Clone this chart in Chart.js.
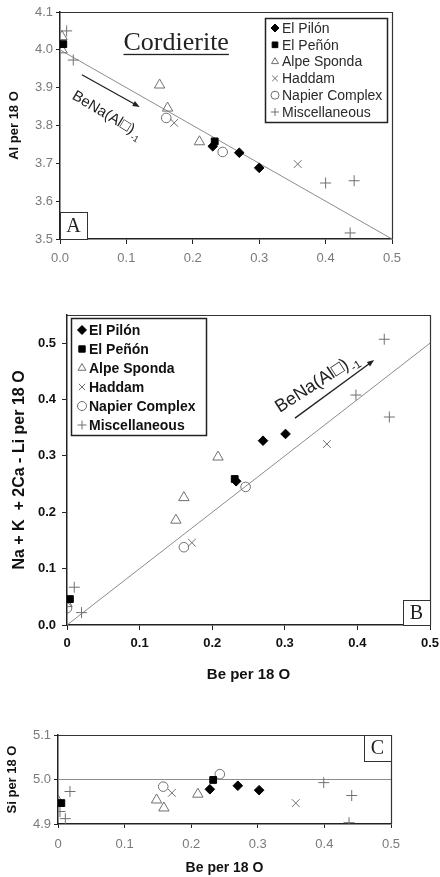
<!DOCTYPE html>
<html>
<head>
<meta charset="utf-8">
<title>Cordierite Be substitution</title>
<script src="https://cdn.jsdelivr.net/npm/chart.js@4.4.1/dist/chart.umd.min.js"></script>
<style>
  html, body { margin: 0; padding: 0; background: #fff; }
  body { width: 440px; height: 877px; position: relative; overflow: hidden; }
  canvas { position: absolute; left: 0; }
</style>
</head>
<body>
<canvas id="chartA" width="440" height="280" style="top:0"></canvas>
<canvas id="chartB" width="440" height="395" style="top:295px"></canvas>
<canvas id="chartC" width="440" height="157" style="top:720px"></canvas>
<script>
// ─── Data (Be per 18 O on x) ─────────────────────────────────────
const seriesNames = ['El Pilón', 'El Peñón', 'Alpe Sponda', 'Haddam', 'Napier Complex', 'Miscellaneous'];
const xTicks = [0, 0.1, 0.2, 0.3, 0.4, 0.5];

// A: Al per 18 O
const alPilon  = [[0.230, 3.745], [0.270, 3.728], [0.300, 3.688]];
const alPenon  = [[0.005, 4.015], [0.233, 3.758]];
const alAlpe   = [[0.003, 4.035], [0.003, 4.000], [0.150, 3.907], [0.162, 3.846], [0.210, 3.757]];
const alHaddam = [[0.172, 3.807], [0.358, 3.698]];
const alNapier = [[0.160, 3.820], [0.245, 3.730]];
const alMisc   = [[0.010, 4.050], [0.020, 3.973], [0.400, 3.648], [0.443, 3.654], [0.437, 3.516]];
const alTrend  = [[0, 4.0], [0.5, 3.5]];

// B: Na + K + 2Ca - Li per 18 O
const alkPilon  = [[0.233, 0.255], [0.270, 0.327], [0.301, 0.339]];
const alkPenon  = [[0.004, 0.046], [0.231, 0.259]];
const alkAlpe   = [[0.000, 0.038], [0.150, 0.186], [0.161, 0.226], [0.208, 0.298]];
const alkHaddam = [[0.172, 0.146], [0.358, 0.321]];
const alkNapier = [[0.000, 0.030], [0.161, 0.138], [0.246, 0.245]];
const alkMisc   = [[0.010, 0.067], [0.020, 0.022], [0.398, 0.408], [0.437, 0.507], [0.444, 0.369]];
const alkTrend  = [[0, 0], [0.5, 0.5]];

// C: Si per 18 O
const siPilon  = [[0.228, 4.978], [0.270, 4.986], [0.302, 4.976]];
const siPenon  = [[0.005, 4.947], [0.233, 4.999]];
const siAlpe   = [[0.000, 4.952], [0.148, 4.954], [0.159, 4.936], [0.210, 4.967]];
const siHaddam = [[0.171, 4.970], [0.357, 4.947]];
const siNapier = [[0.158, 4.984], [0.243, 5.012]];
const siMisc   = [[0.018, 4.973], [0.003, 4.928], [0.011, 4.912], [0.399, 4.993], [0.441, 4.964], [0.437, 4.903]];
const siTrend  = [[0, 5.0], [0.5, 5.0]];

// annotation anchors (data coords)
const noteA  = [0.017, 3.872];
const arrowA = [[0.033, 3.934], [0.120, 3.849]];
const noteB  = [0.293, 0.376];
const arrowB = [[0.314, 0.367], [0.423, 0.470]];
const titleA = [0.175, 4.0];

// ─── Styles ──────────────────────────────────────────────────────
const SANS  = '"Liberation Sans", Arial, sans-serif';
const SERIF = '"Liberation Serif", "Times New Roman", serif';
const GREY  = '#707070';
const CLEAR = 'rgba(255,255,255,0)';

const markStyles = [
  { pointStyle: 'rectRot',  radius: 4.8, fill: '#000', line: '#000' },
  { pointStyle: 'rect',     radius: 4.8, fill: '#000', line: '#000' },
  { pointStyle: 'triangle', radius: 6,   fill: CLEAR,  line: GREY },
  { pointStyle: 'crossRot', radius: 5.5, fill: CLEAR,  line: GREY },
  { pointStyle: 'circle',   radius: 4.8, fill: CLEAR,  line: GREY },
  { pointStyle: 'cross',    radius: 5.5, fill: CLEAR,  line: GREY }
];

Chart.defaults.font.family = SANS;
Chart.defaults.animation = false;

function makeSets(groups, trend) {
  const sets = groups.map((pts, i) => ({
    label: seriesNames[i],
    data: pts.map(([x, y]) => ({ x, y })),
    pointStyle: markStyles[i].pointStyle,
    pointRadius: markStyles[i].radius,
    pointHoverRadius: markStyles[i].radius,
    pointBackgroundColor: markStyles[i].fill,
    pointBorderColor: markStyles[i].line,
    pointBorderWidth: 1
  }));
  sets.push({
    label: 'trend',
    data: trend.map(([x, y]) => ({ x, y })),
    showLine: true,
    pointRadius: 0,
    borderColor: '#8c8c8c',
    borderWidth: 1
  });
  return sets;
}

function axis(o) {
  return {
    type: 'linear',
    min: o.min, max: o.max,
    afterBuildTicks: o.ticks ? (s => { s.ticks = o.ticks.map(v => ({ value: v })); }) : undefined,
    ticks: {
      stepSize: 0.1, includeBounds: false, maxRotation: 0, autoSkip: false,
      color: o.color, font: o.font, padding: o.pad,
      callback: o.fmt
    },
    grid: { drawOnChartArea: false, drawTicks: true, tickLength: o.tick || 5, color: '#222' },
    border: { display: true, color: '#222', width: 1.5 },
    title: o.title ? {
      display: true, text: o.title, color: '#111',
      font: { size: o.titleSize, weight: 'bold' },
      padding: { top: o.titlePad, bottom: o.titlePad }
    } : { display: false },
    afterFit: s => {
      if (s.isHorizontal()) { s.height = o.size; s.paddingLeft = 0; s.paddingRight = 0; }
      else { s.width = o.size; s.paddingTop = 0; s.paddingBottom = 0; }
    }
  };
}

const oneDec  = v => Number(v).toFixed(1);
const zeroDec = v => (Math.abs(v) < 1e-9 ? '0' : Number(v).toFixed(1));

// ─── Decorations: frame, legend, tag, title, arrow note ─────────
function drawNote(ctx, x, y, n) {
  const px = x.getPixelForValue(n.at[0]);
  const py = y.getPixelForValue(n.at[1]);
  ctx.save();
  ctx.translate(px, py);
  ctx.rotate(n.angle * Math.PI / 180);
  ctx.fillStyle = '#222';
  ctx.textAlign = 'left';
  ctx.textBaseline = 'alphabetic';
  ctx.font = `${n.size}px ${SANS}`;
  ctx.fillText('BeNa(Al□)', 0, 0);
  const w = ctx.measureText('BeNa(Al□)').width;
  ctx.font = `${Math.round(n.size * 0.6)}px ${SANS}`;
  ctx.fillText('-1', w + 1, n.size * 0.3);
  ctx.restore();

  const [p0, p1] = n.arrow.map(([u, v]) => [x.getPixelForValue(u), y.getPixelForValue(v)]);
  const ang = Math.atan2(p1[1] - p0[1], p1[0] - p0[0]);
  ctx.save();
  ctx.strokeStyle = '#222';
  ctx.fillStyle = '#222';
  ctx.lineWidth = 1.3;
  ctx.beginPath();
  ctx.moveTo(p0[0], p0[1]);
  ctx.lineTo(p1[0] - 4 * Math.cos(ang), p1[1] - 4 * Math.sin(ang));
  ctx.stroke();
  ctx.translate(p1[0], p1[1]);
  ctx.rotate(ang);
  ctx.beginPath();
  ctx.moveTo(0, 0);
  ctx.lineTo(-7, -2.8);
  ctx.lineTo(-7, 2.8);
  ctx.closePath();
  ctx.fill();
  ctx.restore();
}

const decor = {
  id: 'decor',
  afterDraw(chart, args, o) {
    const { ctx, chartArea: a, scales: { x, y } } = chart;
    ctx.save();

    // top / right frame
    ctx.strokeStyle = '#333';
    ctx.lineWidth = 1.2;
    ctx.beginPath();
    ctx.moveTo(Math.round(a.left), Math.round(a.top) + 0.5);
    ctx.lineTo(Math.round(a.right) + 0.5, Math.round(a.top) + 0.5);
    ctx.lineTo(Math.round(a.right) + 0.5, Math.round(a.bottom));
    ctx.stroke();

    // panel letter box
    if (o.tag) {
      const t = o.tag;
      const bx = t.corner.includes('r') ? a.right - t.w : a.left;
      const by = t.corner.includes('b') ? a.bottom - t.h : a.top;
      ctx.fillStyle = '#fff';
      ctx.fillRect(bx, by, t.w, t.h);
      ctx.strokeStyle = '#333';
      ctx.lineWidth = 1;
      ctx.strokeRect(Math.round(bx) + 0.5, Math.round(by) + 0.5, t.w, t.h);
      ctx.fillStyle = '#222';
      ctx.font = `20px ${SERIF}`;
      ctx.textAlign = 'center';
      ctx.textBaseline = 'middle';
      ctx.fillText(t.text, bx + t.w / 2, by + t.h / 2 + 1);
    }

    // legend box
    if (o.legend) {
      const L = o.legend;
      const lx = L.corner === 'tr' ? a.right - L.dx - L.w : a.left + L.dx;
      const ly = a.top + L.dy;
      ctx.fillStyle = '#fff';
      ctx.fillRect(lx, ly, L.w, L.h);
      ctx.strokeStyle = '#222';
      ctx.lineWidth = 1.5;
      ctx.strokeRect(Math.round(lx) + 0.5, Math.round(ly) + 0.5, L.w, L.h);
      seriesNames.forEach((name, i) => {
        const cy = ly + L.first + i * L.row;
        const s = markStyles[i];
        ctx.fillStyle = s.fill;
        ctx.strokeStyle = s.line;
        ctx.lineWidth = 1;
        Chart.helpers.drawPoint(ctx, { pointStyle: s.pointStyle, radius: L.r, borderWidth: 1, rotation: 0 }, lx + L.mx, cy);
        ctx.fillStyle = L.color;
        ctx.font = L.font;
        ctx.textAlign = 'left';
        ctx.textBaseline = 'middle';
        ctx.fillText(name, lx + L.tx, cy + 1);
      });
    }

    // panel title
    if (o.title) {
      const tx = x.getPixelForValue(o.title.at[0]);
      const ty = y.getPixelForValue(o.title.at[1]);
      ctx.fillStyle = '#222';
      ctx.font = `26px ${SERIF}`;
      ctx.textAlign = 'center';
      ctx.textBaseline = 'alphabetic';
      ctx.fillText(o.title.text, tx, ty);
      const w = ctx.measureText(o.title.text).width;
      ctx.fillRect(tx - w / 2, ty + 4, w, 1.3);
    }

    if (o.note) drawNote(ctx, x, y, o.note);
    ctx.restore();
  }
};

const greyTick = { color: '#7a7a7a', font: { size: 13 } };
const boldTick = { color: '#111', font: { size: 13, weight: 'bold' } };

// ─── Panel A ─────────────────────────────────────────────────────
new Chart(document.getElementById('chartA'), {
  type: 'scatter',
  data: { datasets: makeSets([alPilon, alPenon, alAlpe, alHaddam, alNapier, alMisc], alTrend) },
  options: {
    responsive: false,
    layout: { padding: { top: 12, right: 48, bottom: 0, left: 0 } },
    scales: {
      x: axis({ min: 0, max: 0.5, ticks: xTicks, ...greyTick, pad: 7, size: 41, fmt: oneDec }),
      y: axis({ min: 3.5, max: 4.1, ...greyTick, pad: 3, tick: 4, size: 60, fmt: oneDec,
                title: 'Al per 18 O', titleSize: 13, titlePad: 7 })
    },
    plugins: {
      legend: { display: false },
      tooltip: { enabled: false },
      decor: {
        tag: { text: 'A', corner: 'bl', w: 27, h: 27 },
        legend: { corner: 'tr', dx: 5, dy: 6, w: 122, h: 104, first: 10, row: 16.8, r: 4,
                  mx: 10, tx: 17, font: `14px ${SANS}`, color: '#2a2a2a' },
        title: { text: 'Cordierite', at: titleA },
        note: { at: noteA, angle: 31, size: 15, arrow: arrowA }
      }
    }
  },
  plugins: [decor]
});

// ─── Panel B ─────────────────────────────────────────────────────
new Chart(document.getElementById('chartB'), {
  type: 'scatter',
  data: { datasets: makeSets([alkPilon, alkPenon, alkAlpe, alkHaddam, alkNapier, alkMisc], alkTrend) },
  options: {
    responsive: false,
    layout: { padding: { top: 20, right: 10, bottom: 0, left: 0 } },
    scales: {
      x: axis({ min: 0, max: 0.5, ticks: xTicks, ...boldTick, pad: 6, size: 65, fmt: zeroDec,
                title: 'Be per 18 O', titleSize: 15, titlePad: 6 }),
      y: axis({ min: 0, max: 0.55, ...boldTick, pad: 6, size: 67, fmt: oneDec,
                title: 'Na + K  + 2Ca - Li per 18 O', titleSize: 16, titlePad: 10 })
    },
    plugins: {
      legend: { display: false },
      tooltip: { enabled: false },
      decor: {
        tag: { text: 'B', corner: 'br', w: 27, h: 25 },
        legend: { corner: 'tl', dx: 4, dy: 3, w: 135, h: 117, first: 12, row: 19, r: 4.5,
                  mx: 11, tx: 18, font: `bold 14px ${SANS}`, color: '#111' },
        note: { at: noteB, angle: -33, size: 18, arrow: arrowB }
      }
    }
  },
  plugins: [decor]
});

// ─── Panel C ─────────────────────────────────────────────────────
new Chart(document.getElementById('chartC'), {
  type: 'scatter',
  data: { datasets: makeSets([siPilon, siPenon, siAlpe, siHaddam, siNapier, siMisc], siTrend) },
  options: {
    responsive: false,
    layout: { padding: { top: 15, right: 49, bottom: 0, left: 0 } },
    scales: {
      x: axis({ min: 0, max: 0.5, ticks: xTicks, ...greyTick, pad: 9, tick: 4, size: 53, fmt: zeroDec,
                title: 'Be per 18 O', titleSize: 14, titlePad: 0 }),
      y: axis({ min: 4.9, max: 5.1, ...greyTick, pad: 3, tick: 4, size: 58, fmt: oneDec,
                title: 'Si per 18 O', titleSize: 13, titlePad: 5 })
    },
    plugins: {
      legend: { display: false },
      tooltip: { enabled: false },
      decor: {
        tag: { text: 'C', corner: 'tr', w: 27, h: 26 }
      }
    }
  },
  plugins: [decor]
});
</script>
</body>
</html>
